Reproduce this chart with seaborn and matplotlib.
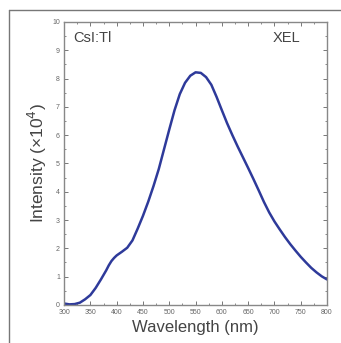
import numpy as np
import pandas as pd
import seaborn as sns
import matplotlib.pyplot as plt
from matplotlib.lines import Line2D
from matplotlib.ticker import MultipleLocator

# XEL spectrum of CsI:Tl
wavelength = [300, 310, 320, 330, 340, 350, 360, 370, 380, 385, 390, 395,
              400, 410, 420, 430, 440, 450, 460, 470, 480, 490,
              500, 510, 520, 530, 540, 550, 560, 570, 580, 590,
              600, 610, 620, 630, 640, 650, 660, 670, 680, 690,
              700, 710, 720, 730, 740, 750, 760, 770, 780, 790, 800]
intensity = [0.05, 0.02, 0.03, 0.08, 0.2, 0.35, 0.6, 0.9, 1.22, 1.4, 1.55, 1.66,
             1.75, 1.88, 2.02, 2.28, 2.7, 3.15, 3.65, 4.2, 4.8, 5.5,
             6.2, 6.88, 7.45, 7.85, 8.1, 8.22, 8.2, 8.05, 7.78, 7.35,
             6.88, 6.42, 6.0, 5.6, 5.22, 4.84, 4.45, 4.05, 3.64, 3.27,
             2.95, 2.67, 2.4, 2.15, 1.92, 1.7, 1.5, 1.31, 1.15, 1.01, 0.9]
xticks = [300, 350, 400, 450, 500, 550, 600, 650, 700, 750, 800]
yticks = [0, 1, 2, 3, 4, 5, 6, 7, 8, 9, 10]

df = pd.DataFrame({'Wavelength': wavelength, 'Intensity': intensity})

sns.set_style('ticks')
plt.rcParams['font.family'] = ['Liberation Sans', 'DejaVu Sans']

fig = plt.figure(figsize=(3.41, 3.43), dpi=100)
ax = fig.add_axes([0.188, 0.111, 0.771, 0.825])

sns.lineplot(data=df, x='Wavelength', y='Intensity', ax=ax,
             color='#2e3a9a', linewidth=1.8)

ax.set_xlim(300, 800)
ax.set_ylim(0, 10)
ax.set_xticks(xticks)
ax.set_yticks(yticks)
ax.xaxis.set_minor_locator(MultipleLocator(25))
ax.yaxis.set_minor_locator(MultipleLocator(0.5))
ax.tick_params(which='both', direction='in', top=True, right=True,
               labelsize=5, colors='#777777', labelcolor='#666666')
ax.tick_params(axis='x', pad=3)
ax.tick_params(axis='y', pad=3)
ax.tick_params(which='major', length=3, width=0.7)
ax.tick_params(which='minor', length=1.5, width=0.6)
for s in ax.spines.values():
    s.set_color('#888888')
    s.set_linewidth(1.0)

ax.set_xlabel('Wavelength (nm)', fontsize=12, color='#444444', labelpad=3)
ax.set_ylabel('Intensity (\u00d710$^4$)', fontsize=12.5, color='#444444', labelpad=2)

ax.text(0.034, 0.943, 'CsI:Tl', transform=ax.transAxes, fontsize=10.5,
        color='#444444', va='center', ha='left')
ax.text(0.897, 0.943, 'XEL', transform=ax.transAxes, fontsize=10.5,
        color='#444444', va='center', ha='right')

# thin frame lines along the top and left of the figure
fig.add_artist(Line2D([0.026, 1.0], [0.971, 0.971], transform=fig.transFigure,
                      color='#777777', linewidth=1.0))
fig.add_artist(Line2D([0.026, 0.026], [0.0, 0.971], transform=fig.transFigure,
                      color='#777777', linewidth=1.0))

fig.savefig('out.png', dpi=100)
